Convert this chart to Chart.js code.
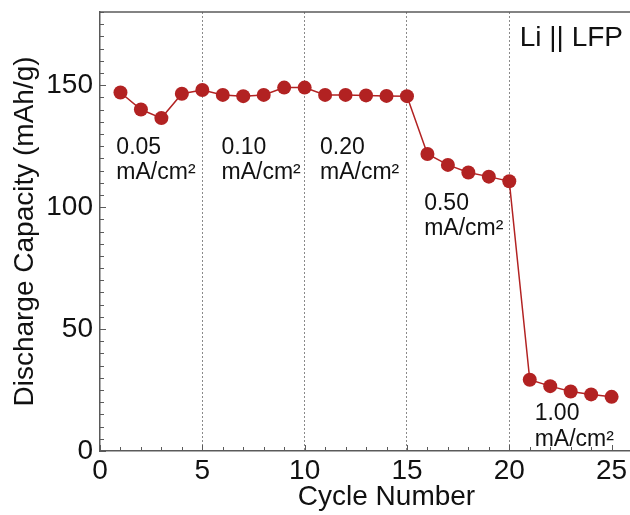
<!DOCTYPE html>
<html>
<head>
<meta charset="utf-8">
<script src="https://cdn.jsdelivr.net/npm/chart.js@4.4.1/dist/chart.umd.min.js"></script>
<style>
  html, body { margin: 0; padding: 0; background: #fff; overflow: hidden; }
  #cap { display: block; }
</style>
</head>
<body>
<canvas id="cap" width="680" height="515"></canvas>
<script>
// discharge capacity per cycle, Li || LFP cell
const cycles = [1, 2, 3, 4, 5, 6, 7, 8, 9, 10, 11, 12, 13, 14, 15, 16, 17, 18, 19, 20, 21, 22, 23, 24, 25];
const capacity = [147, 140, 136.5, 146.5, 148, 146, 145.5, 146, 149, 149, 146, 146, 145.8, 145.6, 145.5,
  121.8, 117.3, 114.2, 112.5, 110.6, 29.2, 26.6, 24.4, 23.2, 22.2];
const rateSteps = [5, 10, 15, 20];
const rateNotes = [
  { text: ["0.05", "mA/cm²"], x: 0.8, y: 124.5 },
  { text: ["0.10", "mA/cm²"], x: 5.94, y: 124.5 },
  { text: ["0.20", "mA/cm²"], x: 10.75, y: 124.5 },
  { text: ["0.50", "mA/cm²"], x: 15.84, y: 101.5 },
  { text: ["1.00", "mA/cm²"], x: 21.24, y: 15.2 },
];
const cellLabel = "Li || LFP";

const FONT = "'Liberation Sans', Arial, Helvetica, sans-serif";
const RED = "#b22222";
const AXIS = "#5a5a5a";

// inward tick marks, top frame line and text notes
const decor = {
  id: "decor",
  beforeDatasetsDraw(chart) {
    const { ctx, chartArea: a, scales: { x, y } } = chart;
    ctx.save();
    ctx.strokeStyle = AXIS;
    ctx.lineWidth = 1;
    x.ticks.forEach((t) => {
      if (t.value % 1 !== 0) return;
      const px = Math.round(x.getPixelForValue(t.value)) + 0.5;
      const len = t.value % 5 === 0 ? 6 : 4;
      ctx.beginPath();
      ctx.moveTo(px, a.bottom);
      ctx.lineTo(px, a.bottom - len);
      ctx.stroke();
    });
    y.ticks.forEach((t) => {
      if (t.value % 5 !== 0) return;
      const py = Math.round(y.getPixelForValue(t.value)) + 0.5;
      const len = t.value % 50 === 0 ? 6 : 4;
      ctx.beginPath();
      ctx.moveTo(a.left, py);
      ctx.lineTo(a.left + len, py);
      ctx.stroke();
    });
    ctx.lineWidth = 1.5;
    ctx.beginPath();
    ctx.moveTo(a.left, a.top);
    ctx.lineTo(a.right, a.top);
    ctx.stroke();
    ctx.restore();
  },
  afterDraw(chart) {
    const { ctx, scales: { x, y } } = chart;
    ctx.save();
    ctx.fillStyle = "#111";
    ctx.textBaseline = "middle";
    ctx.textAlign = "left";
    ctx.font = "23px " + FONT;
    rateNotes.forEach((n) => {
      const px = x.getPixelForValue(n.x);
      const py = y.getPixelForValue(n.y);
      n.text.forEach((line, i) => ctx.fillText(line, px, py + i * 25.5));
    });
    ctx.font = "28px " + FONT;
    ctx.textAlign = "right";
    ctx.fillText(cellLabel, 623, 38);
    ctx.restore();
  },
};

new Chart(document.getElementById("cap"), {
  type: "line",
  data: {
    datasets: [
      {
        data: cycles.map((c, i) => ({ x: c, y: capacity[i] })),
        borderColor: RED,
        backgroundColor: RED,
        borderWidth: 1.5,
        pointRadius: 7,
        pointHoverRadius: 7,
        pointBorderWidth: 0,
        tension: 0,
      },
    ],
  },
  options: {
    responsive: false,
    animation: false,
    events: [],
    layout: { padding: { top: 12, right: 7, left: 0, bottom: 0 } },
    plugins: { legend: { display: false }, tooltip: { enabled: false } },
    scales: {
      x: {
        type: "linear",
        min: 0,
        max: 28,
        afterFit: (s) => { s.height = 64; },
        ticks: {
          stepSize: 1,
          autoSkip: false,
          maxRotation: 0,
          padding: 3,
          color: "#111",
          font: { family: FONT, size: 28 },
          callback: (v) => (v % 5 === 0 && v <= 25 ? v : ""),
        },
        grid: {
          drawTicks: false,
          lineWidth: 1,
          color: (c) => (c.tick && rateSteps.includes(c.tick.value) ? "#8a8a8a" : "transparent"),
        },
        border: { color: AXIS, width: 1.5, dash: [2, 2] },
        title: {
          display: true,
          text: "Cycle Number",
          color: "#111",
          font: { family: FONT, size: 28 },
          padding: { top: 0, bottom: 1 },
        },
      },
      y: {
        min: 0,
        max: 180,
        afterFit: (s) => {
          s.width = 100;
          s.paddingTop = 0;
          s.paddingBottom = 0;
        },
        ticks: {
          stepSize: 5,
          autoSkip: false,
          padding: 7,
          color: "#111",
          font: { family: FONT, size: 28 },
          callback: (v) => (v % 50 === 0 ? v : ""),
        },
        grid: { display: false, drawTicks: false },
        border: { color: AXIS, width: 1.5 },
        title: {
          display: true,
          text: "Discharge Capacity (mAh/g)",
          color: "#111",
          font: { family: FONT, size: 28 },
          padding: { top: 8, bottom: 0 },
        },
      },
    },
  },
  plugins: [decor],
});
</script>
</body>
</html>
